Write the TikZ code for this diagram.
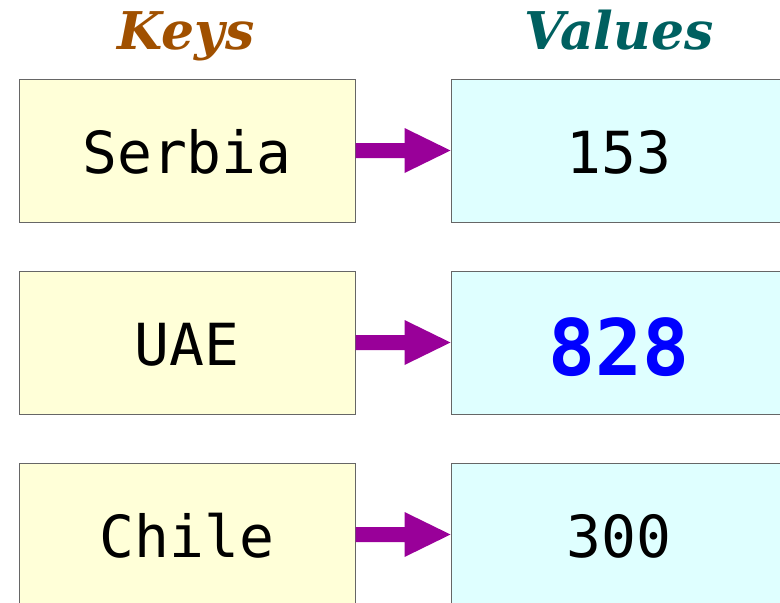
\documentclass[tikz,border=0pt]{standalone}
\usepackage{fontspec}
\setmonofont{DejaVu Sans Mono}
\newfontfamily\headfont{DejaVu Serif}
\usetikzlibrary{calc}

\definecolor{keyfill}{HTML}{FFFFD8}
\definecolor{valfill}{HTML}{DFFFFF}
\definecolor{keyhead}{HTML}{A05000}
\definecolor{valhead}{HTML}{006060}
\definecolor{arrowc}{HTML}{990099}
\definecolor{boxline}{HTML}{666666}

\tikzset{
  cell/.style={draw=boxline, line width=1pt, rectangle,
    minimum width=336pt, minimum height=143pt, inner sep=0pt,
    text height=45pt, text depth=0pt,
    font=\fontsize{58}{58}\selectfont\ttfamily},
  keycell/.style={cell, fill=keyfill},
  valcell/.style={cell, fill=valfill},
  head/.style={font=\fontsize{52}{52}\selectfont\headfont\bfseries\itshape, anchor=base, inner sep=0pt},
  bigval/.style={text=blue, text height=65pt,
    font=\fontsize{78}{78}\selectfont\ttfamily\bfseries},
  pointer/.style={fill=arrowc},
}

% block arrow from the right side of #1 to the left side of #2
\newcommand{\blockarrow}[2]{%
  \fill[pointer] ($(#1.east)+(0,7.5)$) -- ($(#2.west)+(-46,7.5)$)
    -- ($(#2.west)+(-46,22.5)$) -- (#2.west) -- ($(#2.west)+(-46,-22.5)$)
    -- ($(#2.west)+(-46,-7.5)$) -- ($(#1.east)+(0,-7.5)$) -- cycle;}

\begin{document}
\begin{tikzpicture}[x=1pt, y=-1pt]
  \useasboundingbox (0,0) rectangle (780,603);

  \node[head, text=keyhead] (hk) at (186,49) {Keys};
  \node[head, text=valhead] (hv) at (619,49) {Values};

  \node[keycell] (k1) at (187,150.5) {Serbia};
  \node[valcell] (v1) at (619,150.5) {153};

  \node[keycell] (k2) at (187,342.5) {UAE};
  \node[valcell, bigval] (v2) at (619,342.5) {828};

  \node[keycell] (k3) at (187,534.5) {Chile};
  \node[valcell] (v3) at (619,534.5) {300};

  \blockarrow{k1}{v1}
  \blockarrow{k2}{v2}
  \blockarrow{k3}{v3}
\end{tikzpicture}
\end{document}
